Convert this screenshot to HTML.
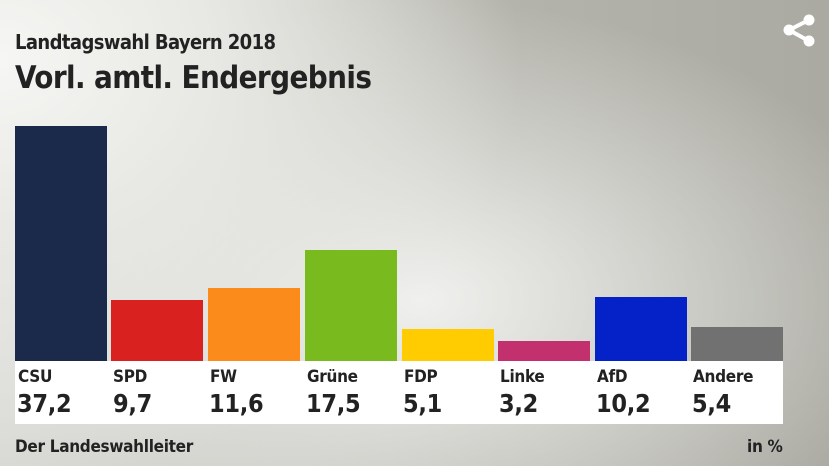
<!DOCTYPE html><html><head><meta charset="utf-8"><style>
body{margin:0;width:829px;height:466px;overflow:hidden;font-family:"DejaVu Sans Condensed","DejaVu Sans","Liberation Sans",sans-serif;color:#222;
background:radial-gradient(ellipse 520px 420px at 0px 60px,#f6f6f4 0%,#e8e8e4 40%,rgba(200,200,194,0) 100%),radial-gradient(ellipse 500px 300px at 420px 300px,#f0f0ee 0%,rgba(230,230,226,0) 100%),linear-gradient(90deg,#d8d8d4 0%,#b4b4ac 60%,#aaaaa2 100%);position:relative}
.t1{position:absolute;left:15px;top:30px;font-size:20px;letter-spacing:-0.6px;font-weight:bold}
.t2{position:absolute;left:15px;top:60px;font-size:31px;letter-spacing:-0.6px;font-weight:bold}
.bar{position:absolute;bottom:105px;width:92px}
.box{position:absolute;left:15px;top:361px;width:768px;height:63px;background:#fff}
.lab{position:absolute;top:367px;font-size:17px;letter-spacing:-0.3px;font-weight:bold}
.val{position:absolute;top:389px;font-size:25px;font-weight:bold;letter-spacing:-0.3px}
.f{position:absolute;top:437px;font-size:17px;letter-spacing:-0.3px;font-weight:bold}
</style></head><body>
<div class="t1">Landtagswahl Bayern 2018</div>
<div class="t2">Vorl. amtl. Endergebnis</div>
<svg style="position:absolute;left:782px;top:13px" width="34" height="34" viewBox="0 0 34 34"><g fill="#fff" stroke="#fff"><circle cx="27" cy="7" r="5"/><circle cx="7" cy="17" r="5"/><circle cx="27" cy="28" r="5"/><line x1="27" y1="7" x2="7" y2="17" stroke-width="4"/><line x1="7" y1="17" x2="27" y2="28" stroke-width="4"/></g></svg>
<div class="bar" style="left:15px;height:235px;background:#1b2a4a"></div>
<div class="bar" style="left:111px;height:61px;background:#d92120"></div>
<div class="bar" style="left:208px;height:73px;background:#fb8c1c"></div>
<div class="bar" style="left:305px;height:111px;background:#79bb1f"></div>
<div class="bar" style="left:402px;height:32px;background:#fecc00"></div>
<div class="bar" style="left:498px;height:20px;background:#c3306e"></div>
<div class="bar" style="left:595px;height:64px;background:#0422c8"></div>
<div class="bar" style="left:691px;height:34px;background:#717171"></div>
<div class="box"></div>
<div class="lab" style="left:18px">CSU</div><div class="val" style="left:17px">37,2</div>
<div class="lab" style="left:113px">SPD</div><div class="val" style="left:113px">9,7</div>
<div class="lab" style="left:210px">FW</div><div class="val" style="left:209px">11,6</div>
<div class="lab" style="left:307px">Grüne</div><div class="val" style="left:306px">17,5</div>
<div class="lab" style="left:404px">FDP</div><div class="val" style="left:403px">5,1</div>
<div class="lab" style="left:500px">Linke</div><div class="val" style="left:499px">3,2</div>
<div class="lab" style="left:597px">AfD</div><div class="val" style="left:596px">10,2</div>
<div class="lab" style="left:693px">Andere</div><div class="val" style="left:692px">5,4</div>
<div class="f" style="left:15px">Der Landeswahlleiter</div>
<div class="f" style="left:747px">in %</div>
</body></html>
